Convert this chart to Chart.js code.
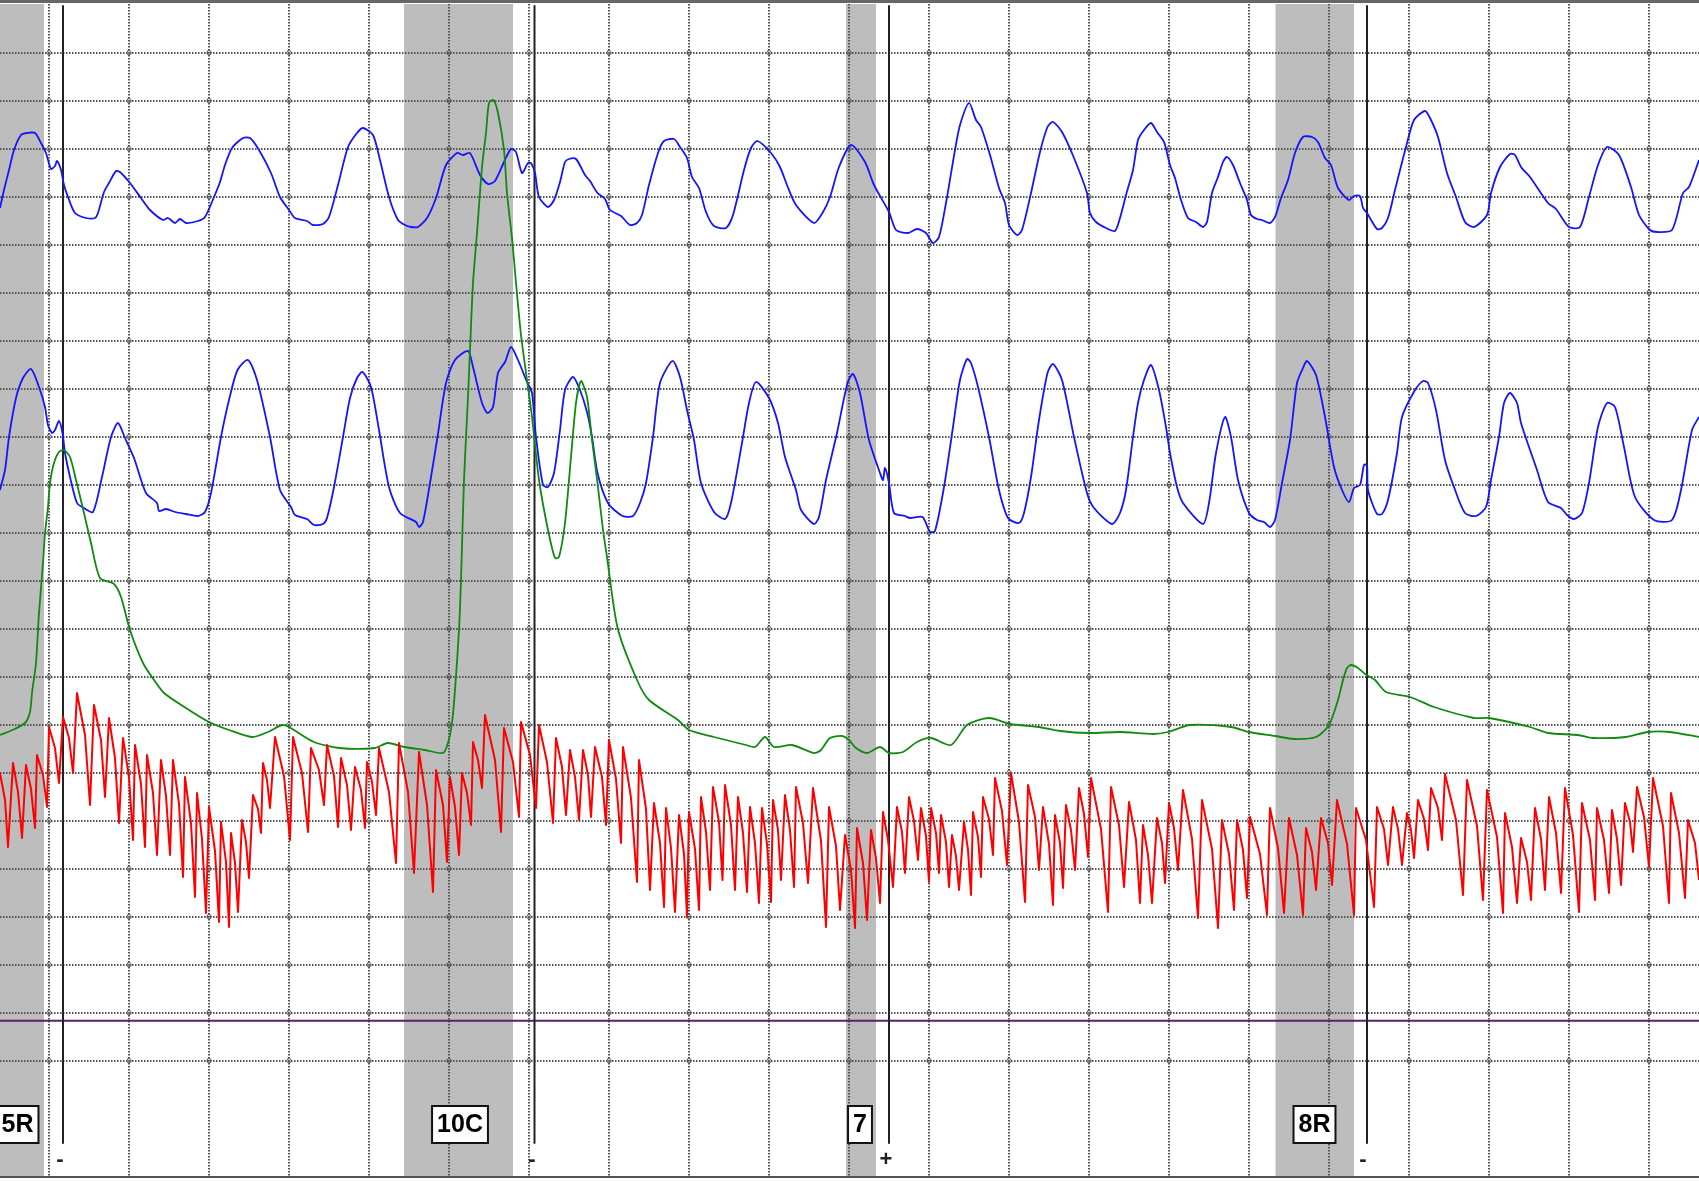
<!DOCTYPE html>
<html><head><meta charset="utf-8">
<style>html,body{margin:0;padding:0;background:#fff;overflow:hidden}canvas{display:block}</style>
<script src="https://cdn.jsdelivr.net/npm/chart.js@4"></script>
</head><body><canvas id="c" width="1699" height="1182"></canvas>
<script>
const xTicks=[49,129,209,289,369,449,529,609,689,769,849,929,1009,1089,1169,1249,1329,1409,1489,1569,1649];
const yTicks=[52.7,100.7,148.7,196.7,244.7,292.7,340.7,388.7,436.7,484.7,532.7,580.7,628.7,676.7,724.7,772.7,820.7,868.7,916.7,964.7,1012.7,1060.7];
const bandStart=[0,404,846,1275.5];
const bandEnd=[44,513,876,1354];
const questionLines=[63,534.5,889,1367];
const answerLabels=['-','-','+','-'];
const answerPos=[60,532,886,1363];
const stimLabels=['5R','10C','7','8R'];
const stimPos=[17.5,460,860,1314.5];
const baseline=[[0,1020.7],[1699,1020.7]];

const blueTop=[[0,208],[4,190],[9,170],[14,150],[21,135],[27,133],[35,133],[41,143],[46,153],[51,169],[55,166],[57,161],[61,170],[64,185],[68,197],[75,213],[86,218],[95,218],[98,213],[104,192],[109,183],[116,171],[120,172],[130,183],[141,198],[150,210],[163,220],[168,218],[175,223],[180,219],[186,223],[198,221],[205,217],[214,197],[220,182],[225,165],[232,148],[243,138],[250,138],[259,150],[271,173],[280,197],[289,210],[295,218],[307,221],[313,225],[323,224],[329,217],[338,185],[348,147],[357,133],[363,128],[373,135],[380,160],[389,197],[398,220],[405,225],[411,227],[418,227],[427,218],[436,198],[446,165],[457,153],[463,155],[470,153],[480,175],[488,184],[495,181],[504,162],[511,149],[516,152],[522,173],[528,163],[531,163],[535,173],[539,197],[548,207],[554,200],
[560,182],[565,162],[569,159],[576,159],[585,175],[590,181],[597.5,193],[605,199],[610,210],[621,216],[630,225],[637,223],[642,215],[649,185],[658,153],[664,141],[674,139],[680,147],[687,158],[692,177],[699,188],[706,212],[714,226],[726,228],[733,215],[744,170],[751,148],[757.5,141],[771,153],[780,167],[787,185],[796,205],[814,223],[822.5,213],[830,197],[839,167],[851,145],[865,162],[874,185],[889,212],[896,230],[908,233],[917,229],[926,233],[933,243],[939,237],[946,203],[955,150],[960,125],[969,103],[976,120],[981,127],[990,155],[999,188],[1005,203],[1009,225],[1017,235],[1022,230],[1031,193],[1040,152],[1047.5,127],[1053,122],[1062,132],[1074,158],[1087,193],[1090,213],[1096,222],[1106,228],[1115,231],
[1120,218],[1126,195],[1133,170],[1138,140],[1144,130],[1151,123],[1157,132],[1164,142],[1170,165],[1175,178],[1181,200],[1188,218],[1196,222],[1203,227],[1207,222],[1212,193],[1218,177],[1223,162],[1227,157],[1233,165],[1240,183],[1247,200],[1251,215],[1257,219],[1262,220],[1270,223],[1275,217],[1281,198],[1288,180],[1295,153],[1303,137],[1312,137],[1318,142],[1325,158],[1331,165],[1338,188],[1349,200],[1354,196],[1360,196],[1363,208],[1367,213],[1377,229],[1382,228],[1388,218],[1395,190],[1406,147],[1414,120],[1425,111],[1430,118],[1438,137],[1447,173],[1456,197],[1465,222],[1474,227],[1487,215],[1491,193],[1500,167],[1510,154],[1515,155],[1521,167],[1530,177],[1548,203],[1556,209],[1569,227],[1580,227],[1589,197],[1598,165],[1607,147],[1619,155],[1631,187],[1639,215],[1650,230],[1657,232],[1672,230],[1683,193],[1689,187],[1699,160]];

const blueLow=[[0,490],[5,470],[9,437],[16,398],[23,378],[31,369],[39,387],[45,407],[48,425],[52,433],[55,430],[59,421],[62.5,433],[65,453],[70,477],[77,503],[84,508],[93,512],[102,477],[111,437],[118,423],[125,438],[134,458],[146,493],[157,503],[159,511],[166,509],[175,512],[186,514],[198,516],[205,512],[211,493],[221,437],[229,400],[237.5,370],[248,360],[257,380],[270,437],[280,490],[291,507],[295,515],[307,519],[314,525],[323,524],[327,518],[334,487],[343,437],[350,398],[357,378],[362.5,372],[371,387],[379,430],[389,487],[400,513],[416,522],[419,527],[423,522],[430,483],[437.5,437],[446,383],[455,360],[468,351],[473,367],[482,403],[487.5,413],[493,407],[498,373],[505,362],[511,347],[518,360],[527,382],[532,393],[536,437],[543,485],[548,487],[554,473],
[560,430],[565,390],[573,377],[580,390],[587,412],[592,437],[597.5,473],[608,503],[622.5,516],[633,516],[640,503],[646,483],[653,437],[660,383],[672.5,361],[680,377],[687,410],[694,440],[701,483],[714,512],[725,519],[731,503],[742,443],[749,403],[756,382],[769,398],[778,423],[785,457],[796,490],[801,510],[814,524],[819,517],[826,480],[837,433],[847.5,383],[853,374],[860,393],[869,440],[880,473],[883,480],[885,468],[889,483],[894,513],[905,516],[910,518],[922.5,517],[930,532],[935,531],[944,487],[953,427],[960,380],[967,359],[971,363],[978,387],[989,437],[999,490],[1008,518],[1019,523],[1024,513],[1031,477],[1039,420],[1047.5,373],[1053,364],[1062,380],[1074,437],[1087,493],[1094,508],[1112,524],
[1120,513],[1126,490],[1133,437],[1138,403],[1144,380],[1151,365],[1159,390],[1166,427],[1170,453],[1177,487],[1183,503],[1203,524],[1209,503],[1216,453],[1225,417],[1231,437],[1238,480],[1249,513],[1257,520],[1264,522],[1270,527],[1275,520],[1282,483],[1290,440],[1297,383],[1303,368],[1307,361],[1316,375],[1325,417],[1334,467],[1342,490],[1349,502],[1354,488],[1360,485],[1364,465],[1367,465],[1368,490],[1377,514],[1382,514],[1388,500],[1397,453],[1402,417],[1415,390],[1423,381],[1428,383],[1436,410],[1445,460],[1454,487],[1465,513],[1476,516],[1486,507],[1491,480],[1499,437],[1504,403],[1510,393],[1517,403],[1521,423],[1537,470],[1548,502],[1561,508],[1567,515],[1574,519],[1582,513],[1589,483],[1598,427],[1607,403],[1615,407],[1624,447],[1635,497],[1654,520],[1672,520],[1681,490],[1692,430],[1699,417]];

const greenTrace=[[0,735],[12.5,730],[25,723],[30,712],[32,693],[36,663],[39,613],[43,563],[45,533],[48,507],[50,483],[54,463],[59,452],[64,450],[70,457],[76,480],[84,513],[91,543],[100,578],[114,584],[121,597],[130,630],[143,663],[154,680],[164,693],[189,710],[209,722],[229,730],[252,737],[268,732],[282,725],[289,727],[314,742],[339,748],[375,748],[387.5,743],[404,747],[425,750],[443,753],[448,743],[452,723],[455,690],[459,630],[461,580],[464,480],[468,397],[470,350],[473,283],[477,233],[482,167],[486,133],[489,103],[493.5,100],[498,113],[504,150],[507,193],[512.5,243],[516,283],[521,335],[527,380],[532,417],[539,480],[548,530],[555,558],[559,557],[565,523],[571,457],[576,403],[581,381],[587,397],[592,440],[597.5,483],[603,530],[607,557],[617.6,628],[637,680],[649,700],[678,720],[689,730],[714,737],[746,745],[755,747],[765,737],[774,747],[792,745],[814,753],[821,750],[830,738],[842,736],[849,740],[856,748],[867,753],[880,747],[889,753],[903,752],[917,742],[931,738],[951,745],[967,725],[989,718],[1010,724],[1039,727],[1060,731],[1089,733],[1120,732],[1153,734],[1168,732],[1190,725],[1231,727],[1249,732],[1275,736],[1294,739],[1316,737],[1329,725],[1338,700],[1343,680],[1347,668],[1351,665],[1358,668],[1365,674],[1375,680],[1386,692],[1410,697],[1434,707],[1474,718],[1489,718],[1530,727],[1548,733],[1578,735],[1593,738],[1626,737],[1648,732],[1670,732],[1699,737]];

const redTrace=[[0,773],[5,800],[8,847],[13,763],[18,792],[22,838],[26,765],[31,789],[35,828],[37,755],[43,775],[47,807],[49,727],[55,748],[59,783],[63,717],[69,738],[73,773],[77,693],[85,735],[90,805],[94,705],[101,740],[105,797],[109,718],[115,758],[119,823],[123,738],[129,777],[133,840],[135,745],[141,784],[145,847],[147,755],[153,793],[157,855],[161,760],[166,796],[170,855],[173,760],[179,804],[183,877],[185,777],[191,823],[195,897],[197,793],[202,839],[206,913],[209,807],[215,851],[219,922],[221,822],[226,862],[229,927],[231,833],[235,863],[238,912],[242,820],[246,842],[249,878],[253,795],[258,809],[261,833],[263,763],[267,780],[270,808],[275,737],[284,776],[290,840],[293,737],[302,773],[308,832],[311,748],[319,770],[324,805],[327,745],[334,776],[338,827],[341,758],[347,785],[351,830],[355,767],[361,790],[365,828],[367,762],[372,782],[376,815],[379,748],[389,792],[396,863],[399,743],[408,792],[414,873],[419,752],[427,805],[433,892],[436,770],[443,805],[447,862],[450,777],[455,807],[459,855],[462,773],[467,793],[471,825],[473,742],[478,760],[482,788],[485,715],[495,760],[501,832],[504,728],[513,762],[519,817],[521,722],[530,755],[536,808],[539,725],[547,762],[553,823],[556,738],[562,767],
[566,815],[570,750],[575,777],[579,820],[583,750],[588,775],[591,817],[595,747],[602,777],[606,825],[609,740],[616,779],[621,843],[623,747],[631,798],[637,882],[639,760],[646,809],[650,890],[654,803],[660,843],[664,907],[666,808],[671,848],[675,912],[679,815],[684,854],[687,917],[689,812],[695,849],[699,910],[701,797],[706,832],[710,890],[713,787],[719,822],[722.5,880],[725,785],[731,825],[735,890],[738,797],[743,833],[747,892],[750,807],[755,843],[759,903],[762,808],[767,844],[771,902],[773,800],[778,830],[781,880],[785,795],[790,830],[794,887],[796,787],[803,823],[808,883],[813,788],[821,841],[826,927],[829,807],[836,846],[840,910],[845,835],[851,870],[855,928],[857,828],[863,863],[867,920],[871,830],[876,858],[880,903],[883,812],[888,840],[893,887],[897,807],[902,832],[905,873],[909,797],[914,821],[918,860],[921,808],[926,836],[929,882],[931,808],[936,833],[939,873],[941,815],[946,842],[949,887],[952,835],[956,856],[959,890],[964,822],[968,850],[971,895],[973,812],[978,837],[981,877],[983,797],[989,819],[993,855],[995,778],[1002,811],[1007,865],[1011,773],[1019,822],[1025,902],[1028,785],[1035,817],[1039,870],[1043,807],[1049,844],[1053,905],[1055,815],[1060,843],[1063,888],[1066,805],[1071,830],[1075,870],[1079,788],[1084,814],[1088,857],[1091,778],[1101,829],[1108,912],[1111,787],[1119,825],
[1124,887],[1129,802],[1136,840],[1140,903],[1143,825],[1148,855],[1152,903],[1157,818],[1162,843],[1165,883],[1169,803],[1174,828],[1178,870],[1183,790],[1192,839],[1198,918],[1202,800],[1212,849],[1218,928],[1222,820],[1229,854],[1234,910],[1237,820],[1243,850],[1247,898],[1250,817],[1260,854],[1267,915],[1270,808],[1278,848],[1284,913],[1289,818],[1297,855],[1303,915],[1306,828],[1312,852],[1316,890],[1321,818],[1328,843],[1332,885],[1337,800],[1347,844],[1354,915],[1356,808],[1366,840],[1374,907],[1377,807],[1384,829],[1388,865],[1393,807],[1398,829],[1402,865],[1407,813],[1411,830],[1414,858],[1418,800],[1424,819],[1428,850],[1431,788],[1438,808],[1442,840],[1445,774],[1456,820],[1463,895],[1467,780],[1477,826],[1483,900],[1487,790],[1497,837],[1503,913],[1505,813],[1512,847],[1517,903],[1521,838],[1527,862],[1531,900],[1535,808],[1541,839],[1545,890],[1549,797],[1556,833],[1561,893],[1565,788],[1573,835],[1579,912],[1582,803],[1590,840],[1595,900],[1597,808],[1604,840],[1609,893],[1612,810],[1617,839],[1621,885],[1625,803],[1630,822],[1633,852],[1637,787],[1644,817],[1649,867],[1653,778],[1663,826],[1669,903],[1671,793],[1679,833],[1685,898],[1688,820],[1695,843],[1699,880]];

const pts=a=>a.map(p=>({x:p[0],y:p[1]}));
const line=(a,color,w,order,tension=0)=>({type:'line',data:pts(a),borderColor:color,borderWidth:w,pointRadius:0,tension,fill:false,order,borderJoinStyle:'round'});
const crossings=[];xTicks.forEach(x=>yTicks.forEach(y=>crossings.push({x,y})));

const frame={id:'frame',
 beforeDraw(ch){const{ctx,chartArea:a,scales:{x}}=ch;ctx.save();ctx.fillStyle='#bdbdbd';
  bandStart.forEach((s,i)=>{const l=x.getPixelForValue(s),r=x.getPixelForValue(bandEnd[i]);ctx.fillRect(l,a.top,r-l,a.bottom-a.top);});ctx.restore();},
 afterDraw(ch){const{ctx,scales:{x,y}}=ch;ctx.save();
  ctx.fillStyle='#666';ctx.fillRect(0,0,ch.width,3);
  ctx.fillStyle='#555';ctx.fillRect(0,y.getPixelForValue(1177)-1,ch.width,2);
  ctx.textAlign='center';ctx.textBaseline='middle';
  stimLabels.forEach((t,i)=>{ctx.font='bold 25px "Liberation Sans"';const w=ctx.measureText(t).width+10;const cx=x.getPixelForValue(stimPos[i]);const top=y.getPixelForValue(1106),bot=y.getPixelForValue(1143);
   ctx.fillStyle='#fff';ctx.fillRect(cx-w/2,top,w,bot-top);ctx.strokeStyle='#111';ctx.lineWidth=2;ctx.strokeRect(cx-w/2,top,w,bot-top);ctx.fillStyle='#000';ctx.fillText(t,cx,(top+bot)/2+1);});
  ctx.font='bold 22px "Liberation Sans"';ctx.fillStyle='#222';
  answerLabels.forEach((t,i)=>ctx.fillText(t,x.getPixelForValue(answerPos[i]),y.getPixelForValue(1160)));
  ctx.restore();}};

new Chart(document.getElementById('c'),{
 type:'line',
 data:{datasets:[
  line(redTrace,'#ff0000',2,1),
  line(greenTrace,'#108a10',1.8,2,0.25),
  line(blueTop,'#1414ff',1.8,3,0.25),
  line(blueLow,'#1414ff',1.8,4,0.25),
  ...questionLines.map(q=>line([[q,6],[q,1143]],'#222',2,5)),
  line(baseline,'#5b1f6e',2,6),
  {type:'scatter',data:crossings,pointRadius:2.2,pointBorderWidth:1,pointBorderColor:'#555',pointBackgroundColor:'rgba(0,0,0,0)',showLine:false,order:7}
 ]},
 options:{responsive:false,animation:false,devicePixelRatio:1,
  layout:{autoPadding:false,padding:{top:4,bottom:5,left:0,right:0}},
  plugins:{legend:{display:false},tooltip:{enabled:false},title:{display:false}},
  scales:{
   x:{type:'linear',min:0,max:1699,afterBuildTicks:s=>{s.ticks=xTicks.map(value=>({value}));},
      ticks:{display:false},border:{display:false,dash:[1.5,1.5]},grid:{color:'#555',lineWidth:2,drawTicks:false}},
   y:{type:'linear',reverse:true,min:4,max:1177,afterBuildTicks:s=>{s.ticks=yTicks.map(value=>({value}));},
      ticks:{display:false},border:{display:false,dash:[1.5,1.5]},grid:{color:'#555',lineWidth:2,drawTicks:false}}
  }},
 plugins:[frame]
});
</script></body></html>
